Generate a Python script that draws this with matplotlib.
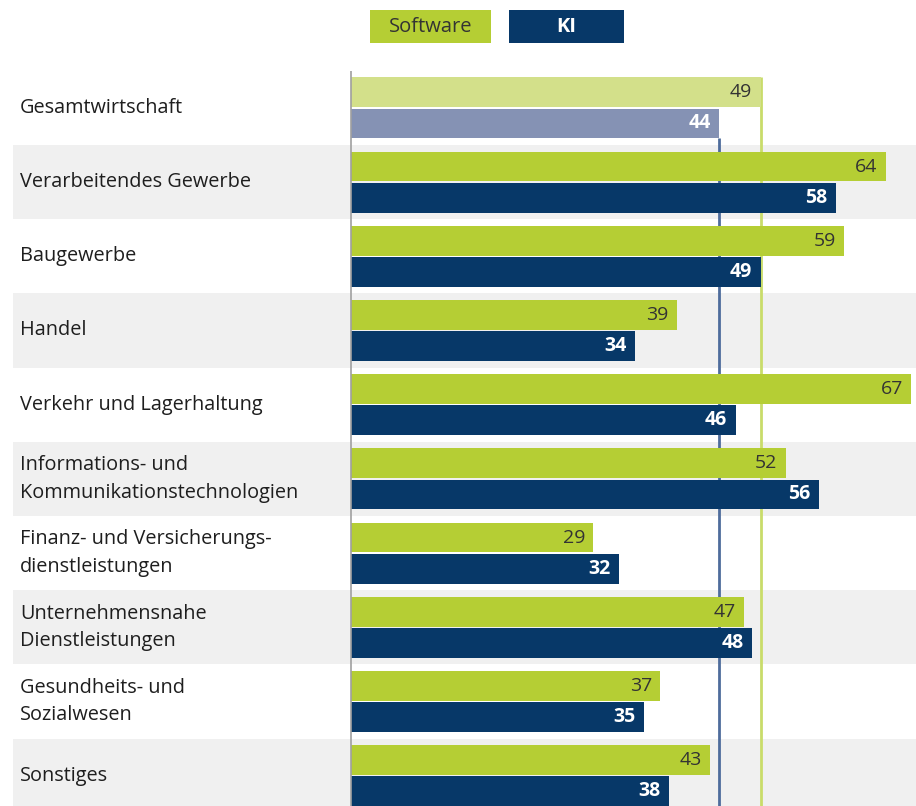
import matplotlib
matplotlib.use('Agg')
import matplotlib.pyplot as plt
from matplotlib.patches import Rectangle
import numpy as np

categories = ['Gesamtwirtschaft', 'Verarbeitendes Gewerbe', 'Baugewerbe', 'Handel',
              'Verkehr und Lagerhaltung', 'Informations- und\nKommunikationstechnologien',
              'Finanz- und Versicherungs-\ndienstleistungen', 'Unternehmensnahe\nDienstleistungen',
              'Gesundheits- und\nSozialwesen', 'Sonstiges']
software = [49, 64, 59, 39, 67, 52, 29, 47, 37, 43]
ki = [44, 58, 49, 34, 46, 56, 32, 48, 35, 38]
legend_labels = ['Software', 'KI']

green = '#B5CE34'
navy = '#073868'
green_light = '#D3E08A'
navy_light = '#8592B4'
band_gray = '#F0F0F0'

plt.rcParams['font.family'] = ['Open Sans', 'DejaVu Sans']

W, H = 916, 806
px = 8.36  # pixels per unit on the value axis
zero_px = 351
pitch = 74.2
row0_px = 107.9

fig = plt.figure(figsize=(W / 100, H / 100), dpi=100)
ax = fig.add_axes([0, 0, 1, 1])
ax.set_xlim(-zero_px / px, (W - zero_px) / px)
ax.set_ylim((H - row0_px) / pitch, -row0_px / pitch)
ax.axis('off')

y = np.arange(len(categories))
off = 0.21
h = 0.4

# alternating background bands
for i in y:
    if i % 2 == 1:
        ax.add_patch(Rectangle((-338 / px, i - 0.5), 1000, 1, color=band_gray, lw=0, zorder=0))

# reference lines for the overall economy (start at the Gesamtwirtschaft bars)
ax.vlines(software[0], -off - h / 2, 20, color='#C9DC6A', lw=2, zorder=1)
ax.vlines(ki[0], off + h / 2, 20, color='#4E6C9C', lw=2, zorder=1)
ax.vlines(0, -0.5, 20, color='#A0A0A0', lw=1.2, zorder=3)

sw_colors = [green_light] + [green] * (len(categories) - 1)
ki_colors = [navy_light] + [navy] * (len(categories) - 1)
ax.barh(y - off, software, height=h, color=sw_colors, zorder=2)
ax.barh(y + off, ki, height=h, color=ki_colors, zorder=2)

for i in y:
    ax.text(software[i] - 1.0, i - off, str(software[i]), ha='right', va='center',
            fontsize=14, color='#333333', zorder=4)
    ax.text(ki[i] - 1.0, i + off, str(ki[i]), ha='right', va='center',
            fontsize=14, color='white', fontweight='bold', zorder=4)
    ax.text(-331 / px, i, categories[i], ha='left', va='center', fontsize=14.3,
            color='#1E1E1E', linespacing=1.5, zorder=4)

# legend boxes
for (x0, x1), lab, col, tcol, fw in [((370, 491), legend_labels[0], green, '#333333', 'normal'),
                                       ((509, 624), legend_labels[1], navy, 'white', 'bold')]:
    fig.add_artist(Rectangle((x0 / W, 1 - 43 / H), (x1 - x0) / W, 33 / H,
                             transform=fig.transFigure, color=col, lw=0))
    fig.text((x0 + x1) / 2 / W, 1 - 27 / H, lab, ha='center', va='center',
             fontsize=14.5, color=tcol, fontweight=fw)

fig.savefig('out.png', dpi=100)
